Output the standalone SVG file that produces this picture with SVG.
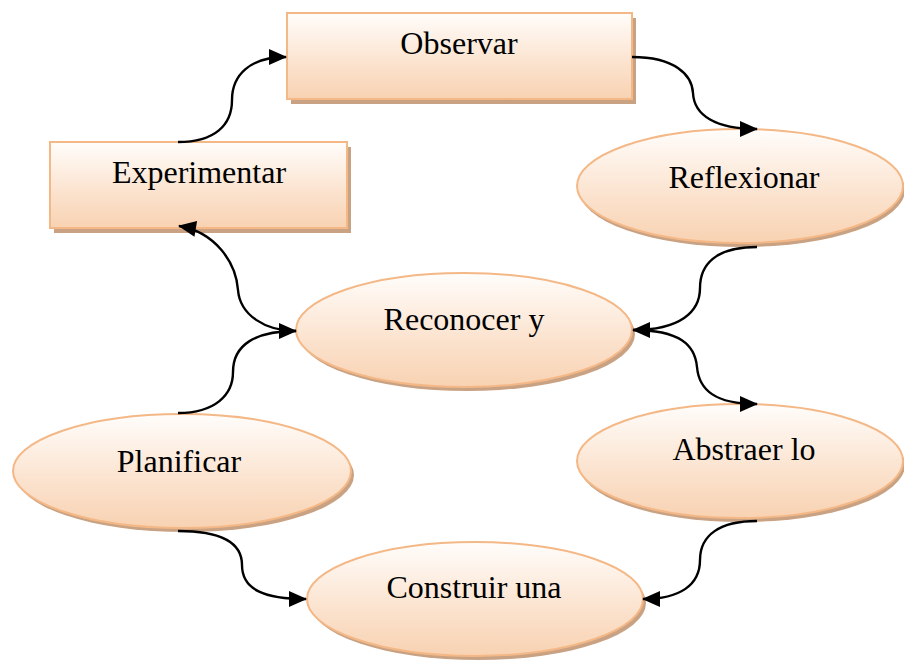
<svg xmlns="http://www.w3.org/2000/svg" width="904" height="663" viewBox="0 0 904 663">
<defs>
<linearGradient id="g" x1="0" y1="0" x2="0" y2="1">
<stop offset="0" stop-color="#fffdfb"/>
<stop offset="0.6" stop-color="#fbe2cd"/>
<stop offset="1" stop-color="#f8d2b2"/>
</linearGradient>
<marker id="arr" markerUnits="userSpaceOnUse" markerWidth="20" markerHeight="18" refX="17" refY="8" orient="auto" overflow="visible">
<path d="M0,0 L18,8 L0,16 z" fill="#000"/>
</marker>
</defs>
<style>
.shadow{fill:#c9a283;}
.shape{fill:url(#g);stroke:#f4b887;stroke-width:2;}
.label{font-family:"Liberation Serif","Times New Roman",serif;font-size:32px;fill:#000;text-anchor:middle;}
.conn{fill:none;stroke:#000;stroke-width:2.4;marker-end:url(#arr);}
</style>
<rect width="904" height="663" fill="#fff"/>
<g id="observar">
<rect class="shadow" x="291" y="18" width="345" height="86"/>
<rect class="shape" x="287" y="13" width="345" height="86"/>
<text class="label" x="459" y="54">Observar</text>
</g>
<g id="experimentar">
<rect class="shadow" x="54" y="147" width="297" height="86"/>
<rect class="shape" x="50" y="142" width="297" height="86"/>
<text class="label" x="199" y="183">Experimentar</text>
</g>
<g id="reflexionar">
<ellipse class="shadow" cx="742" cy="190" rx="163" ry="57"/>
<ellipse class="shape" cx="740" cy="186" rx="163" ry="57"/>
<text class="label" x="744" y="188">Reflexionar</text>
</g>
<g id="reconocer">
<ellipse class="shadow" cx="467" cy="334" rx="168" ry="57"/>
<ellipse class="shape" cx="464" cy="330" rx="168" ry="57"/>
<text class="label" x="464" y="330">Reconocer y</text>
</g>
<g id="planificar">
<ellipse class="shadow" cx="185" cy="475" rx="169" ry="57"/>
<ellipse class="shape" cx="182" cy="471" rx="169" ry="57"/>
<text class="label" x="179" y="472">Planificar</text>
</g>
<g id="abstraer">
<ellipse class="shadow" cx="742" cy="465" rx="163" ry="57"/>
<ellipse class="shape" cx="740" cy="461" rx="163" ry="57"/>
<text class="label" x="744" y="460">Abstraer lo</text>
</g>
<g id="construir">
<ellipse class="shadow" cx="478" cy="603" rx="168" ry="57"/>
<ellipse class="shape" cx="475" cy="599" rx="168" ry="57"/>
<text class="label" x="474" y="598">Construir una</text>
</g>
<g id="connectors">
<path class="conn" d="M178,142 C215,142 232,125 232,100 C232,75 250,57 286,57"/>
<path class="conn" d="M632,57 C675,57 692,75 693,93 C694,115 715,129 757,129"/>
<path class="conn" d="M757,247 C715,247 700,265 700,288 C700,312 680,330 633,330"/>
<path class="conn" d="M633,330 C680,330 695,345 697,367 C699,390 715,404 757,404"/>
<path class="conn" d="M757,521 C720,521 700,535 700,560 C700,585 680,599 643,599"/>
<path class="conn" d="M178,531 C225,531 242,545 242,565 C242,590 265,599 306,599"/>
<path class="conn" d="M178,413 C215,413 233,395 233,372 C233,345 255,331 296,331"/>
<path class="conn" d="M296,331 C265,331 240,315 238,290 C236,262 215,232 179,226"/>
</g>
</svg>
